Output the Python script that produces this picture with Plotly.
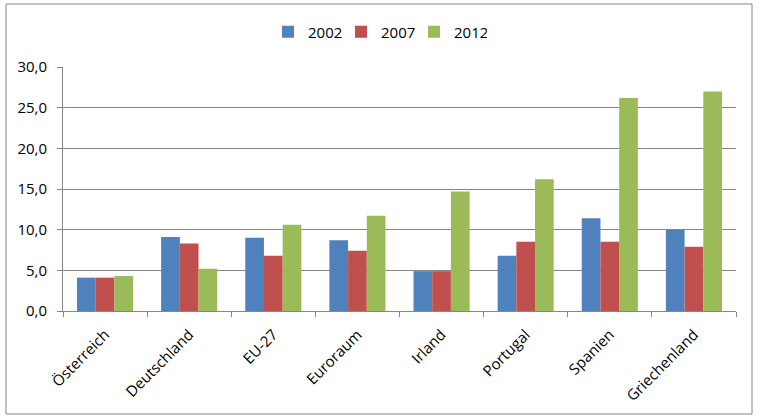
import plotly.graph_objects as go

# Werte
laender = ['Österreich', 'Deutschland', 'EU-27', 'Euroraum', 'Irland', 'Portugal', 'Spanien', 'Griechenland']
werte_2002 = [4.1, 9.1, 9.0, 8.7, 4.9, 6.8, 11.4, 10.0]
werte_2007 = [4.1, 8.3, 6.8, 7.4, 4.9, 8.5, 8.5, 7.9]
werte_2012 = [4.3, 5.2, 10.6, 11.7, 14.7, 16.2, 26.2, 27.0]
y_ticks = [0, 5, 10, 15, 20, 25, 30]

W, H = 759, 420
L, R, T, B = 63, 23, 67, 109
pw, ph = W - L - R, H - T - B

fig = go.Figure()
for name, vals, col in [('2002', werte_2002, '#4F81BD'),
                        ('2007', werte_2007, '#C0504D'),
                        ('2012', werte_2012, '#9BBB59')]:
    fig.add_trace(go.Bar(x=laender, y=vals, name=name, marker_color=col,
                         marker_line_width=0))

# Rahmen um das ganze Diagramm
fig.add_shape(type='rect', xref='paper', yref='paper',
              x0=(6 - L) / pw, x1=(752 - L) / pw,
              y0=(T + ph - 414) / ph, y1=(T + ph - 4) / ph,
              line=dict(color='#868686', width=1), fillcolor='rgba(0,0,0,0)')

fig.update_layout(
    width=W, height=H,
    margin=dict(l=L, r=R, t=T, b=B),
    paper_bgcolor='white', plot_bgcolor='white',
    separators=',.',
    barmode='group', bargap=0.333, bargroupgap=0,
    font=dict(family='Open Sans', size=15, color='black'),
    legend=dict(orientation='h', x=(268 - L) / pw, xanchor='left',
                y=(T + ph - 32) / ph, yanchor='middle',
                font=dict(size=15), itemwidth=30, entrywidth=28,
                traceorder='normal'),
    showlegend=True,
)
fig.update_xaxes(tickangle=-45, tickson='boundaries', ticks='outside', ticklen=5,
                 tickcolor='#868686', showline=True, linecolor='#868686',
                 ticklabelstandoff=8, tickfont=dict(size=15))
fig.update_yaxes(range=[0, 30], tickvals=y_ticks, tickformat='.1f',
                 ticks='outside', ticklen=5, tickcolor='#868686',
                 showline=True, linecolor='#868686', showgrid=True,
                 gridcolor='#868686', zeroline=False,
                 ticklabelstandoff=7, tickfont=dict(size=15))

# Seitenrand des Browsers entfernen, damit das Diagramm bei (0,0) beginnt
fig.write_html('out.html', config={'displayModeBar': False},
               post_script="document.body.style.margin='0';")
